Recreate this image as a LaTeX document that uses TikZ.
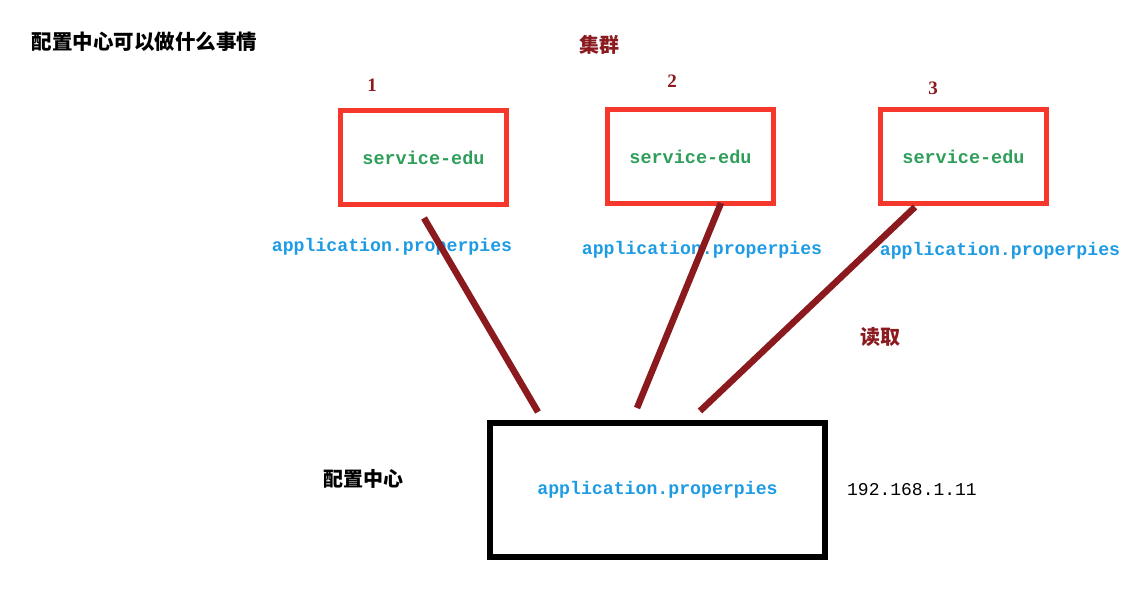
\documentclass[tikz,border=0pt]{standalone}
\usepackage{fontspec}
\setmainfont{Liberation Serif}
\setmonofont{Liberation Mono}
\newfontfamily\cjk{Noto Sans CJK SC}
\usetikzlibrary{positioning}

\definecolor{boxred}{HTML}{F5382B}
\definecolor{wine}{HTML}{8B1A1F}
\definecolor{svcgreen}{HTML}{2E9E5A}
\definecolor{propblue}{HTML}{1E9BE3}

\begin{document}
\begin{tikzpicture}[x=1pt,y=-1pt,
    svc/.style={draw=boxred,line width=5pt,minimum width=166pt,minimum height=94pt,
      font=\ttfamily\bfseries\fontsize{18.5}{20}\selectfont,text=svcgreen},
    prop/.style={font=\ttfamily\bfseries\fontsize{18.2}{20}\selectfont,text=propblue},
    num/.style={font=\bfseries\fontsize{19}{20}\selectfont,text=wine},
    link/.style={draw=wine,line width=6.5pt}]
  \useasboundingbox (0,0) rectangle (1125,600);

  \node[font=\cjk\bfseries\fontsize{20.5}{22}\selectfont,anchor=west] (title)
    at (28,42) {配置中心可以做什么事情};
  \node[font=\cjk\bfseries\fontsize{20}{22}\selectfont,text=wine] (cluster)
    at (599,45) {集群};

  % three service instances
  \node[svc] (s1) at (423.5,157.5) {service-edu};
  \node[svc] (s2) at (690.5,156.5) {service-edu};
  \node[svc] (s3) at (963.5,156.5) {service-edu};
  \node[num] (n1) at (372,85) {1};
  \node[num] (n2) at (672,81) {2};
  \node[num] (n3) at (933,88) {3};

  \node[prop] (p1) at (392,247) {application.properpies};
  \node[prop] (p2) at (702,250) {application.properpies};
  \node[prop] (p3) at (1000,251) {application.properpies};

  % config center
  \node[draw,line width=6pt,minimum width=335pt,minimum height=134pt,prop] (cfg)
    at (657.5,490) {application.properpies};
  \node[font=\cjk\bfseries\fontsize{20}{22}\selectfont] (cfglabel) at (363,479) {配置中心};
  \node[font=\ttfamily\fontsize{18}{20}\selectfont] (ip) at (912,490) {192.168.1.11};

  \draw[link] ([xshift=0.5pt,yshift=-11pt]s1.south) -- ([xshift=-119.5pt,yshift=8pt]cfg.north);
  \draw[link] ([xshift=30.5pt,yshift=3pt]s2.south) -- ([xshift=-20.5pt,yshift=12pt]cfg.north);
  \draw[link] ([xshift=-48.5pt,yshift=-1pt]s3.south) -- ([xshift=42.5pt,yshift=9pt]cfg.north);

  \node[font=\cjk\bfseries\fontsize{20}{22}\selectfont,text=wine] (read) at (880,337) {读取};
\end{tikzpicture}
\end{document}
